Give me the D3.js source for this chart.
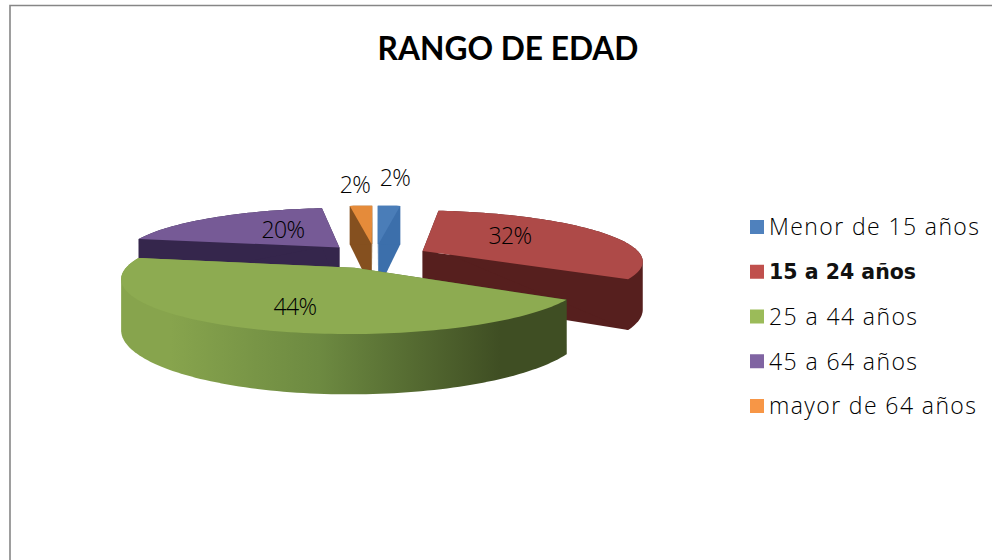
<!DOCTYPE html>
<html>
  <head>
    <meta charset="utf-8">
    <script src="https://d3js.org/d3.v7.min.js" charset="utf-8"></script>
    <style>
    body {
      margin: 0;
      background-color: #fff;
    }
    svg {
      display: block;
    }
    .title {
      font-family: Lato, sans-serif;
      font-weight: bold;
      font-size: 31.7px;
      fill: #000;
    }
    .pct {
      font-family: "Open Sans", sans-serif;
      font-weight: 300;
      font-size: 23px;
      letter-spacing: -0.6px;
      fill: #000;
    }
    .legend-label {
      font-family: "Open Sans", sans-serif;
      font-weight: 300;
      font-size: 23px;
      letter-spacing: 1.4px;
      fill: #000;
    }
    .legend-label.bold {
      font-family: "DejaVu Sans", sans-serif;
      font-weight: bold;
      font-size: 20.5px;
      letter-spacing: 0;
      fill: #111;
    }
    </style>
    <title>Rango de edad</title>
  </head>
  <body>
    <div class="chart"></div>

    <script>
      // data
      var categories = ["Menor de 15 años", "15 a 24 años", "25 a 44 años", "45 a 64 años", "mayor de 64 años"];
      var values = [2, 32, 44, 20, 2];
      var chartTitle = "RANGO DE EDAD";

      // colours
      var legendColors = ["#4f81bd", "#c0504d", "#9bbb59", "#8064a2", "#f79646"];
      var topColors = ["#4a7db8", "#ae4a48", "#8dab51", "#765a96", "#e58b3a"];
      var sideColors = ["#3c6fab", "#561f1e", "url(#greenSide)", "#35264c", "#85501f"];

      var width = 992;
      var height = 560;

      // pie projection, fitted to the picture
      var cx = 375, cy = 256;
      var rx = 219, ry = 49.5;
      var explode = 0.245;
      var persp = 0.18;
      var depth = 47;

      // percent label anchors (middle of the text)
      var labelPos = [[395, 178], [510, 236], [295, 307], [283, 230], [355, 185]];

      var svg = d3.select(".chart").append("svg")
          .attr("width", width)
          .attr("height", height);

      var defs = svg.append("defs");
      var grad = defs.append("linearGradient")
          .attr("id", "greenSide")
          .attr("gradientUnits", "userSpaceOnUse")
          .attr("x1", 170).attr("x2", 500)
          .attr("y1", 0).attr("y2", 0);
      grad.append("stop").attr("offset", "0%").attr("stop-color", "#87a44d");
      grad.append("stop").attr("offset", "45%").attr("stop-color", "#6d8a41");
      grad.append("stop").attr("offset", "100%").attr("stop-color", "#3f4e23");

      // chart frame, only top and left edges are inside the crop
      svg.append("path")
          .attr("d", d3.line()([[10, height], [10, 5.5], [width, 5.5]]))
          .attr("fill", "none")
          .attr("stroke", "#868686")
          .attr("stroke-width", 1.6);

      svg.append("text")
          .attr("class", "title")
          .attr("x", 508)
          .attr("y", 60)
          .attr("text-anchor", "middle")
          .text(chartTitle);

      var pie = d3.pie().sort(null);
      var arcs = pie(values);
      arcs.forEach(function(d, i) { d.index = i; });

      // plane point -> screen point, z = 0 top face, z = 1 bottom face
      function project(u, v, z) {
        var s = 1 / (1 + persp * v);
        return [cx + rx * u * s, cy - ry * v * s + z * depth * s];
      }

      function slicePoints(d, z) {
        var mid = (d.startAngle + d.endAngle) / 2;
        var ox = explode * Math.sin(mid);
        var oy = explode * Math.cos(mid);
        var n = Math.max(2, Math.ceil((d.endAngle - d.startAngle) * 40));
        var rim = d3.range(n + 1).map(function(k) {
          var a = d.startAngle + (d.endAngle - d.startAngle) * k / n;
          return project(ox + Math.sin(a), oy + Math.cos(a), z);
        });
        return { apex: project(ox, oy, z), rim: rim };
      }

      var line = d3.line();

      // back to front
      var drawOrder = [4, 0, 3, 1, 2];

      var slices = svg.append("g").selectAll("g")
          .data(drawOrder.map(function(i) { return arcs[i]; }))
          .enter().append("g");

      slices.each(function(d) {
        var g = d3.select(this);
        var top = slicePoints(d, 0);
        var bot = slicePoints(d, 1);
        var last = top.rim.length - 1;
        var fill = sideColors[d.index];

        // hull keeps the vertical tangent at the sides of the rim
        var walls = [
          [top.apex, top.rim[0], bot.rim[0], bot.apex],
          [top.apex, top.rim[last], bot.rim[last], bot.apex],
          d3.polygonHull(top.rim.concat(bot.rim))
        ];

        g.selectAll("path.side")
            .data(walls)
            .enter().append("path")
            .attr("class", "side")
            .attr("d", function(w) { return line(w) + "Z"; })
            .attr("fill", fill);

        g.append("path")
            .attr("class", "top")
            .attr("d", line([top.apex].concat(top.rim)) + "Z")
            .attr("fill", topColors[d.index]);
      });

      svg.append("g").selectAll("text")
          .data(values)
          .enter().append("text")
          .attr("class", "pct")
          .attr("x", function(d, i) { return labelPos[i][0]; })
          .attr("y", function(d, i) { return labelPos[i][1]; })
          .attr("dy", "0.36em")
          .attr("text-anchor", "middle")
          .text(function(d) { return d + "%"; });

      // legend
      var legendY = d3.scalePoint()
          .domain(categories)
          .range([227, 406]);

      var legend = svg.append("g").selectAll("g")
          .data(categories)
          .enter().append("g")
          .attr("transform", function(d) { return "translate(750," + legendY(d) + ")"; });

      legend.append("rect")
          .attr("y", -7)
          .attr("width", 14)
          .attr("height", 14)
          .attr("fill", function(d, i) { return legendColors[i]; });

      legend.append("text")
          .attr("class", function(d, i) { return i === 1 ? "legend-label bold" : "legend-label"; })
          .attr("x", 19)
          .attr("dy", "0.36em")
          .text(function(d) { return d; });
    </script>
  </body>
</html>
